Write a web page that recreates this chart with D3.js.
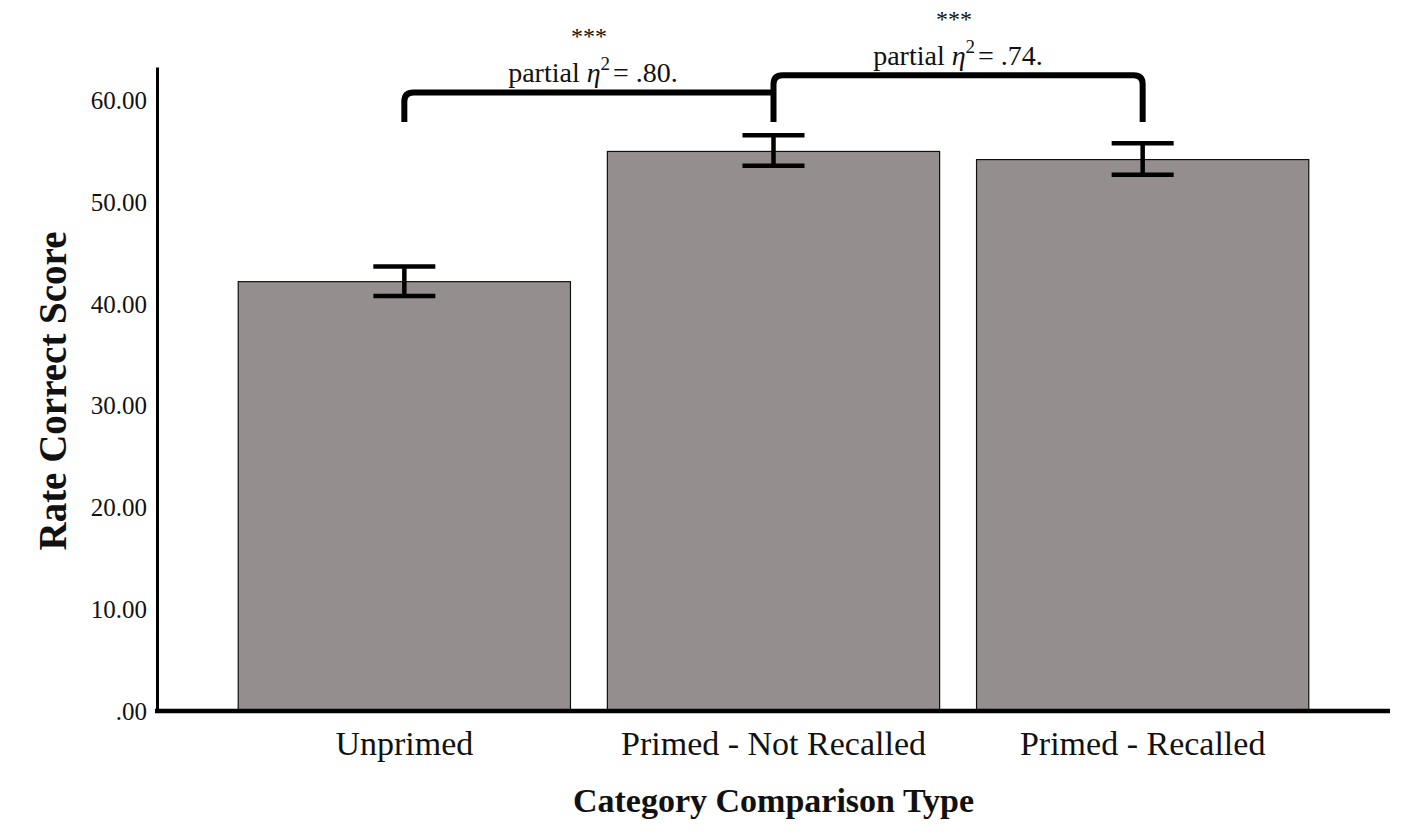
<!DOCTYPE html>
<html>
<head>
<meta charset="utf-8">
<script src="https://cdn.jsdelivr.net/npm/d3@7"></script>
<style>
  body { margin: 0; background: #fff; }
  text { font-family: "Liberation Serif", "Times New Roman", serif; fill: #111; }
</style>
</head>
<body>
<div id="chart"></div>
<script>
// data
const categories = ["Unprimed", "Primed - Not Recalled", "Primed - Recalled"];
const means = [42.2, 55.0, 54.2];
const errLow = [40.8, 53.6, 52.7];
const errHigh = [43.7, 56.6, 55.8];
const yTicks = [0, 10, 20, 30, 40, 50, 60];

// significance brackets: from category, to category, bracket level, leg end
const bracketFrom = [0, 1];
const bracketTo = [1, 2];
const bracketLevel = [60.8, 62.5];
const bracketFoot = [57.9, 57.9];
const bracketStars = ["***", "***"];
const bracketEta = [".80.", ".74."];

const width = 1417, height = 834;
const margin = {left: 157, right: 27, top: 67, bottom: 123};

const svg = d3.select("#chart").append("svg")
  .attr("width", width).attr("height", height);

const x = d3.scaleBand()
  .domain(categories)
  .range([margin.left, width - margin.right])
  .paddingInner(0.1)
  .paddingOuter(0.22);

const y = d3.scaleLinear()
  .domain([0, 63.3])
  .range([height - margin.bottom, margin.top]);

const cx = i => x(categories[i]) + x.bandwidth() / 2;

// bars
svg.append("g").selectAll("rect")
  .data(categories)
  .join("rect")
  .attr("x", d => x(d))
  .attr("y", (d, i) => y(means[i]))
  .attr("width", x.bandwidth())
  .attr("height", (d, i) => y(0) - y(means[i]))
  .attr("fill", "#948f8e")
  .attr("stroke", "#111")
  .attr("stroke-width", 1.2);

// error bars
const capW = 31;
const eb = svg.append("g").attr("stroke", "#000").attr("stroke-width", 4.5);
categories.forEach((c, i) => {
  const xc = cx(i);
  eb.append("line").attr("x1", xc).attr("x2", xc).attr("y1", y(errHigh[i])).attr("y2", y(errLow[i]));
  eb.append("line").attr("x1", xc - capW).attr("x2", xc + capW).attr("y1", y(errHigh[i])).attr("y2", y(errHigh[i]));
  eb.append("line").attr("x1", xc - capW).attr("x2", xc + capW).attr("y1", y(errLow[i])).attr("y2", y(errLow[i]));
});

// y axis
const yAxis = d3.axisLeft(y)
  .tickValues(yTicks)
  .tickSize(0)
  .tickPadding(10)
  .tickFormat(d => d === 0 ? ".00" : d3.format(".2f")(d));
const gy = svg.append("g")
  .attr("transform", `translate(${margin.left},0)`)
  .call(yAxis);
gy.select(".domain").attr("stroke", "#000").attr("stroke-width", 3);
gy.selectAll(".tick text")
  .attr("font-size", 25)
  .attr("font-family", "Liberation Serif")
  .attr("fill", "#111");

// x axis
const xAxis = d3.axisBottom(x).tickSize(0).tickPadding(20);
const gx = svg.append("g")
  .attr("transform", `translate(0,${y(0)})`)
  .call(xAxis);
gx.select(".domain").attr("stroke", "#000").attr("stroke-width", 4.5)
  .attr("d", `M${margin.left - 2},0H${width - margin.right}`);
gx.selectAll(".tick text")
  .attr("font-size", 34)
  .attr("font-family", "Liberation Serif")
  .attr("fill", "#111")
  .attr("dy", "0.71em");

// axis titles
svg.append("text")
  .attr("x", (margin.left + width - margin.right) / 2)
  .attr("y", 812)
  .attr("text-anchor", "middle")
  .attr("font-size", 34)
  .attr("font-weight", "bold")
  .text("Category Comparison Type");

svg.append("text")
  .attr("transform", `translate(66,${391}) rotate(-90)`)
  .attr("text-anchor", "middle")
  .attr("font-size", 39)
  .attr("font-weight", "bold")
  .text("Rate Correct Score");

// significance brackets
const r = 9;
const br = svg.append("g").attr("fill", "none").attr("stroke", "#000")
  .attr("stroke-width", 6).attr("stroke-linejoin", "round");
bracketFrom.forEach((f, k) => {
  const x0 = cx(f), x1 = cx(bracketTo[k]);
  const yl = y(bracketLevel[k]), yf = y(bracketFoot[k]);
  let p;
  if (k === 0) {
    p = `M${x0},${yf}V${yl + r}Q${x0},${yl} ${x0 + r},${yl}H${x1}`;
  } else {
    p = `M${x0},${yf}V${yl + r}Q${x0},${yl} ${x0 + r},${yl}H${x1 - r}Q${x1},${yl} ${x1},${yl + r}V${yf}`;
  }
  br.append("path").attr("d", p);

  const tx = k === 0 ? 593 : 958;
  svg.append("text")
    .attr("x", tx).attr("y", yl - 10)
    .attr("text-anchor", "middle")
    .attr("font-size", 28)
    .call(t => {
      t.append("tspan").text("partial ");
      t.append("tspan").attr("font-style", "italic").text("η");
      t.append("tspan").attr("font-size", 19).attr("dy", -12).text("2");
      t.append("tspan").attr("dy", 12).attr("dx", 3).text("= " + bracketEta[k]);
    });
  svg.append("text")
    .attr("x", tx - 4).attr("y", yl - 48)
    .attr("text-anchor", "middle")
    .attr("font-size", 24)
    .text(bracketStars[k]);
});
</script>
</body>
</html>
